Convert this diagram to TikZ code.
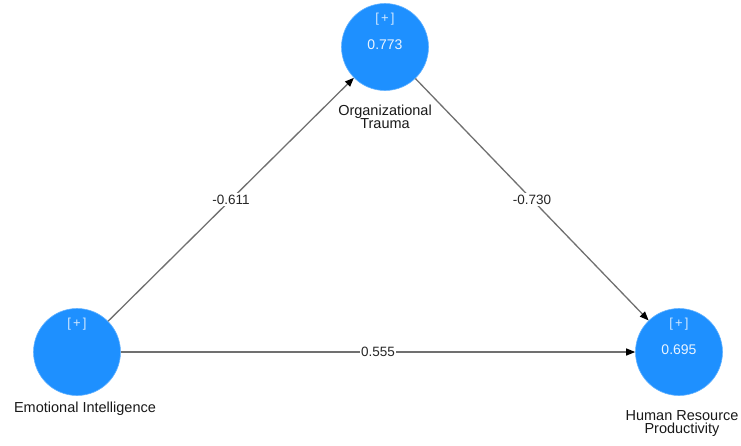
\documentclass[tikz,border=0pt]{standalone}
\usepackage{fontspec}
\setmainfont{Liberation Sans}
\usetikzlibrary{arrows.meta}
\definecolor{lvblue}{HTML}{1E90FF}
\definecolor{edgegray}{HTML}{707070}
\begin{document}
\begin{tikzpicture}[x=1pt,y=-1pt,
  latent/.style={circle,fill=lvblue,draw=lvblue!70!white,line width=0.6pt,minimum size=87pt,inner sep=0pt},
  plus/.style={text=white!80!lvblue,font=\fontsize{13}{15}\selectfont},
  rsq/.style={text=white!90!lvblue,font=\fontsize{14}{16}\selectfont},
  lbl/.style={font=\fontsize{14.5}{16}\selectfont,align=center,text=black!90},
  path/.style={draw=edgegray,line width=1.3pt,-{Triangle[length=9pt,width=7pt,fill=black,color=black]}},
  coef/.style={fill=white,inner sep=1.5pt,font=\fontsize{13.5}{15}\selectfont,text=black!85}]
\useasboundingbox (0,0) rectangle (741,445);
\node[latent] (ot) at (385,47) {};
\node[latent] (ei) at (77,352) {};
\node[latent] (hrp) at (679,352) {};
\node[plus] (otp) at (385,19) {[\,+\,]};
\node[rsq] (otr) at (385,45) {0.773};
\node[plus] (eip) at (77,324) {[\,+\,]};
\node[plus] (hrpp) at (679,324) {[\,+\,]};
\node[rsq] (hrpr) at (679,350) {0.695};
\node[lbl] (otl) at (385,117) {Organizational\\[-3pt]Trauma};
\node[lbl] (eil) at (85,409) {Emotional Intelligence};
\node[lbl] (hrpl) at (682,424) {Human Resource\\[-3pt]Productivity};
\draw[path] (ei) -- node[coef,pos=0.5] {-0.611} (ot);
\draw[path] (ot) -- node[coef,pos=0.5] {-0.730} (hrp);
\draw[path] (ei) -- node[coef,pos=0.5] {0.555} (hrp);
\end{tikzpicture}
\end{document}
